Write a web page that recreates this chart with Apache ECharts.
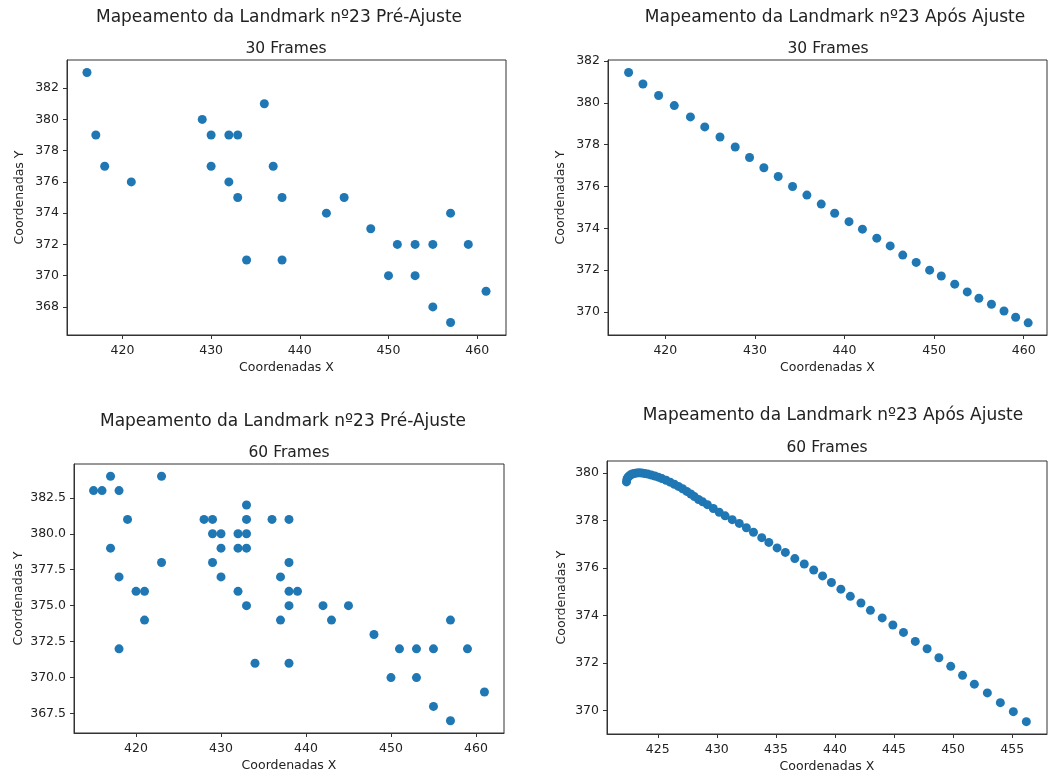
<!DOCTYPE html>
<html>
<head>
<meta charset="utf-8">
<script src="https://cdn.jsdelivr.net/npm/echarts@6/dist/echarts.min.js"></script>
<style>
    html, body {margin: 0; padding: 0; background: #fff;}
    #main {width: 1051px; height: 774px;}
</style>
</head>
<body>
<div id="main"></div>
<script>
// 30 frames, antes do ajuste
var preX30 = [416, 417, 418, 421, 429, 430, 432, 433, 436, 430, 437, 432, 433, 438, 434, 438, 443, 445, 448, 451, 453, 455, 457, 459, 450, 453, 461, 455, 457];
var preY30 = [383, 379, 377, 376, 380, 379, 379, 379, 381, 377, 377, 376, 375, 375, 371, 371, 374, 375, 373, 372, 372, 372, 374, 372, 370, 370, 369, 368, 367];

// 30 frames, depois do ajuste
var posX30 = [415.9, 417.5, 419.25, 421.0, 422.8, 424.4, 426.1, 427.8, 429.4, 431.0, 432.6, 434.2, 435.8, 437.4, 438.9,
    440.5, 442.0, 443.6, 445.1, 446.5, 448.0, 449.5, 450.8, 452.3, 453.7, 455.0, 456.4, 457.8, 459.1, 460.5];
var posY30 = [381.45, 380.9, 380.35, 379.87, 379.33, 378.85, 378.37, 377.89, 377.39, 376.9, 376.48, 376.0, 375.59, 375.16, 374.72,
    374.32, 373.96, 373.53, 373.16, 372.72, 372.37, 372.0, 371.72, 371.33, 370.96, 370.66, 370.37, 370.05, 369.75, 369.48];

// 60 frames, antes do ajuste
var preX60 = [415, 416, 417, 418, 419, 417, 423, 423, 418, 420, 421, 421, 418, 428, 429, 429, 430, 430, 429, 430,
    432, 433, 433, 433, 432, 433, 432, 433, 434, 436, 438, 438, 437, 438, 438, 437, 438, 439, 442, 443,
    445, 448, 451, 453, 455, 457, 459, 450, 453, 461, 455, 457];
var preY60 = [383, 383, 384, 383, 381, 379, 384, 378, 377, 376, 376, 374, 372, 381, 381, 380, 380, 379, 378, 377,
    380, 380, 382, 381, 379, 379, 376, 375, 371, 381, 381, 378, 377, 376, 375, 374, 371, 376, 375, 374,
    375, 373, 372, 372, 372, 374, 372, 370, 370, 369, 368, 367];

// 60 frames, depois do ajuste
var posX60 = [422.35, 422.38, 422.45, 422.55, 422.68, 422.82, 423.0, 423.2, 423.42, 423.65, 423.9, 424.15, 424.45, 424.75, 425.05,
    425.35, 425.7, 426.05, 426.4, 426.75, 427.1, 427.45, 427.8, 428.1, 428.45, 428.8,
    429.2, 429.7, 430.2, 430.7, 431.3, 431.9, 432.5, 433.1, 433.8, 434.4, 435.1, 435.8, 436.6, 437.4, 438.2,
    438.95, 439.7, 440.5, 441.3, 442.2, 443.0, 444.0, 444.9, 445.8, 446.8, 447.8, 448.8, 449.8, 450.8, 451.8, 452.9, 454.0, 455.1, 456.2];
var posY60 = [379.62, 379.72, 379.8, 379.86, 379.91, 379.95, 379.97, 379.99, 380.0, 379.99, 379.97, 379.95, 379.91, 379.87, 379.82,
    379.76, 379.69, 379.61, 379.52, 379.43, 379.33, 379.22, 379.11, 379.0, 378.88, 378.78,
    378.66, 378.5, 378.34, 378.19, 378.03, 377.87, 377.69, 377.5, 377.27, 377.07, 376.84, 376.65, 376.39, 376.16, 375.91,
    375.66, 375.38, 375.10, 374.80, 374.52, 374.21, 373.89, 373.59, 373.28, 372.90, 372.59, 372.21, 371.85, 371.47, 371.10, 370.73, 370.32, 369.94, 369.52];

// rótulos dos eixos
var ticksX30 = [420, 430, 440, 450, 460];
var ticksY30pre = [368, 370, 372, 374, 376, 378, 380, 382];
var ticksY30pos = [370, 372, 374, 376, 378, 380, 382];
var ticksX60pre = [420, 430, 440, 450, 460];
var ticksY60pre = [367.5, 370, 372.5, 375, 377.5, 380, 382.5];
var ticksX60pos = [425, 430, 435, 440, 445, 450, 455];
var ticksY60pos = [370, 372, 374, 376, 378, 380];

var FONT = 'DejaVu Sans';
var TXT = '#222';

function pairs(xs, ys) {
    var out = [];
    for (var i = 0; i < xs.length; i++) {
        out.push([xs[i], ys[i]]);
    }
    return out;
}

function axisX(grid, min, max, ticks) {
    return {
        type: 'value', gridIndex: grid, min: min, max: max,
        name: 'Coordenadas X', nameLocation: 'middle', nameGap: 26,
        nameTextStyle: {fontFamily: FONT, fontSize: 12.5, color: TXT},
        axisLine: {show: true, lineStyle: {color: '#333', width: 1}},
        axisTick: {show: true, length: 4, customValues: ticks, lineStyle: {color: '#333'}},
        axisLabel: {customValues: ticks, margin: 9, fontFamily: FONT, fontSize: 12.5, color: TXT},
        splitLine: {show: false}
    };
}

function axisY(grid, min, max, ticks, gap, dec) {
    return {
        type: 'value', gridIndex: grid, min: min, max: max,
        name: 'Coordenadas Y', nameLocation: 'middle', nameGap: gap,
        nameTextStyle: {fontFamily: FONT, fontSize: 12.5, color: TXT},
        axisLine: {show: true, lineStyle: {color: '#333', width: 1}},
        axisTick: {show: true, length: 4, customValues: ticks, lineStyle: {color: '#333'}},
        axisLabel: {
            customValues: ticks, margin: 8, fontFamily: FONT, fontSize: 12.5, color: TXT,
            formatter: function (v) { return dec ? v.toFixed(1) : String(v); }
        },
        splitLine: {show: false}
    };
}

function title(text, cx, top, size) {
    return {
        text: text, left: cx, top: top, textAlign: 'center', padding: 0,
        textStyle: {fontFamily: FONT, fontSize: size, fontWeight: 'normal', color: TXT}
    };
}

function scatter(idx, xs, ys) {
    return {
        type: 'scatter', xAxisIndex: idx, yAxisIndex: idx,
        data: pairs(xs, ys), symbolSize: 9,
        itemStyle: {color: '#1f77b4', opacity: 1},
        animation: false
    };
}

var myChart = echarts.init(document.getElementById('main'));

option = {
    backgroundColor: '#fff',
    title: [
        title('Mapeamento da Landmark nº23 Pré-Ajuste', 279, 9, 17),
        title('30 Frames', 286, 40.5, 15.5),
        title('Mapeamento da Landmark nº23 Após Ajuste', 835, 9, 17),
        title('30 Frames', 828, 40.5, 15.5),
        title('Mapeamento da Landmark nº23 Pré-Ajuste', 283, 413, 17),
        title('60 Frames', 289, 444.5, 15.5),
        title('Mapeamento da Landmark nº23 Após Ajuste', 833, 407, 17),
        title('60 Frames', 827, 439.5, 15.5)
    ],
    grid: [
        {left: 67, top: 60, width: 439, height: 275, show: true, borderColor: '#333', borderWidth: 1},
        {left: 608, top: 60, width: 439, height: 275, show: true, borderColor: '#333', borderWidth: 1},
        {left: 74, top: 464, width: 430, height: 269, show: true, borderColor: '#333', borderWidth: 1},
        {left: 607, top: 461, width: 440, height: 275, show: true, borderColor: '#333', borderWidth: 1}
    ],
    xAxis: [
        axisX(0, 413.75, 463.25, ticksX30),
        axisX(1, 413.6, 462.6, ticksX30),
        axisX(2, 412.7, 463.3, ticksX60pre),
        axisX(3, 420.7, 457.95, ticksX60pos)
    ],
    yAxis: [
        axisY(0, 366.2, 383.8, ticksY30pre, 41, false),
        axisY(1, 368.9, 382.05, ticksY30pos, 41, false),
        axisY(2, 366.15, 384.85, ticksY60pre, 49, true),
        axisY(3, 369.0, 380.5, ticksY60pos, 39, false)
    ],
    series: [
        scatter(0, preX30, preY30),
        scatter(1, posX30, posY30),
        scatter(2, preX60, preY60),
        scatter(3, posX60, posY60)
    ]
};

myChart.setOption(option);
</script>
</body>
</html>
